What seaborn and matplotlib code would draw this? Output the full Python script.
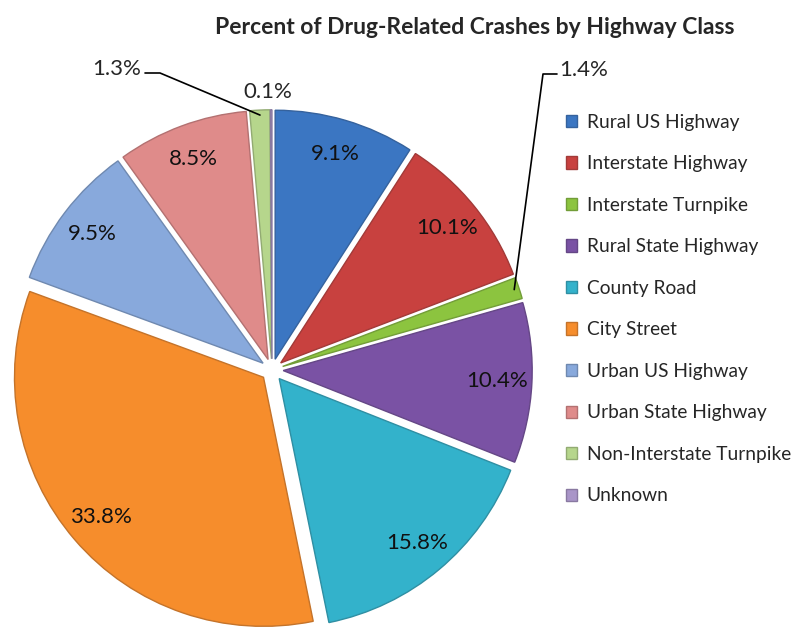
import numpy as np
import seaborn as sns
import matplotlib.pyplot as plt

# data
classes = ["Rural US Highway", "Interstate Highway", "Interstate Turnpike",
           "Rural State Highway", "County Road", "City Street",
           "Urban US Highway", "Urban State Highway",
           "Non-Interstate Turnpike", "Unknown"]
percents = [9.1, 10.1, 1.4, 10.4, 15.8, 33.8, 9.5, 8.5, 1.3, 0.1]
colors = ["#3b76c2", "#c8413f", "#8cc43f", "#7a52a4", "#33b2cb", "#f68d2c",
          "#88a9dc", "#df8b8a", "#b6d68c", "#a995c8"]

sns.set_theme(style="white")
plt.rcParams["font.family"] = ["Lato", "DejaVu Sans"]

W, H = 798, 627
fig = plt.figure(figsize=(W / 100, H / 100), dpi=100)

# square axes (in pixels) centred on the pie centre
cx, cy, R, half = 272, H - 370, 249, 300
ax = fig.add_axes([(cx - half) / W, (cy - half) / H, 2 * half / W, 2 * half / H])

explode = [0.045] * len(percents)
wedges, texts, autotexts = ax.pie(
    percents, colors=colors, startangle=90, counterclock=False,
    explode=explode, pctdistance=0.86,
    autopct=lambda p: f"{p:.1f}%" if p > 5 else "",
    wedgeprops=dict(linewidth=0),
    textprops=dict(fontsize=16, color="#111111"))
# thin darker rim, a nod to the bevelled look
for w, c in zip(wedges, colors):
    w.set_edgecolor(sns.dark_palette(c, 5)[3])
    w.set_linewidth(1.0)
lim = half / R
ax.set_xlim(-lim, lim)
ax.set_ylim(-lim, lim)
ax.set_aspect("equal")
ax.axis("off")


def rim_point(w, frac=1.0):
    mid = np.deg2rad((w.theta1 + w.theta2) / 2)
    x = w.center[0] + w.r * frac * np.cos(mid)
    y = w.center[1] + w.r * frac * np.sin(mid)
    return fig.transFigure.inverted().transform(ax.transData.transform((x, y)))


def fp(x, y):
    return (x / W, 1 - y / H)


# outside labels with leader lines
a = rim_point(wedges[2], 0.98)
pts = [a, fp(543, 74), fp(557, 74)]
fig.add_artist(plt.Line2D([p[0] for p in pts], [p[1] for p in pts],
                          transform=fig.transFigure, color="black", lw=1.2))
fig.text(*fp(559, 70), f"{percents[2]:.1f}%", fontsize=16, ha="left", va="center")

a = rim_point(wedges[8], 0.98)
pts = [a, fp(160, 73), fp(145, 73)]
fig.add_artist(plt.Line2D([p[0] for p in pts], [p[1] for p in pts],
                          transform=fig.transFigure, color="black", lw=1.2))
fig.text(*fp(141, 69), f"{percents[8]:.1f}%", fontsize=16, ha="right", va="center")

fig.text(*fp(268, 92), f"{percents[9]:.1f}%", fontsize=16, ha="center", va="center")

fig.text(*fp(475, 28), "Percent of Drug-Related Crashes by Highway Class",
         fontsize=16.5, fontweight="bold", ha="center", va="center")

fig.legend(wedges, classes, loc="upper left", bbox_to_anchor=fp(558, 106),
           frameon=False, fontsize=13.8, handlelength=0.6, handleheight=0.6,
           handletextpad=0.5, labelspacing=1.28, borderaxespad=0)

fig.savefig("out.png", dpi=100)
